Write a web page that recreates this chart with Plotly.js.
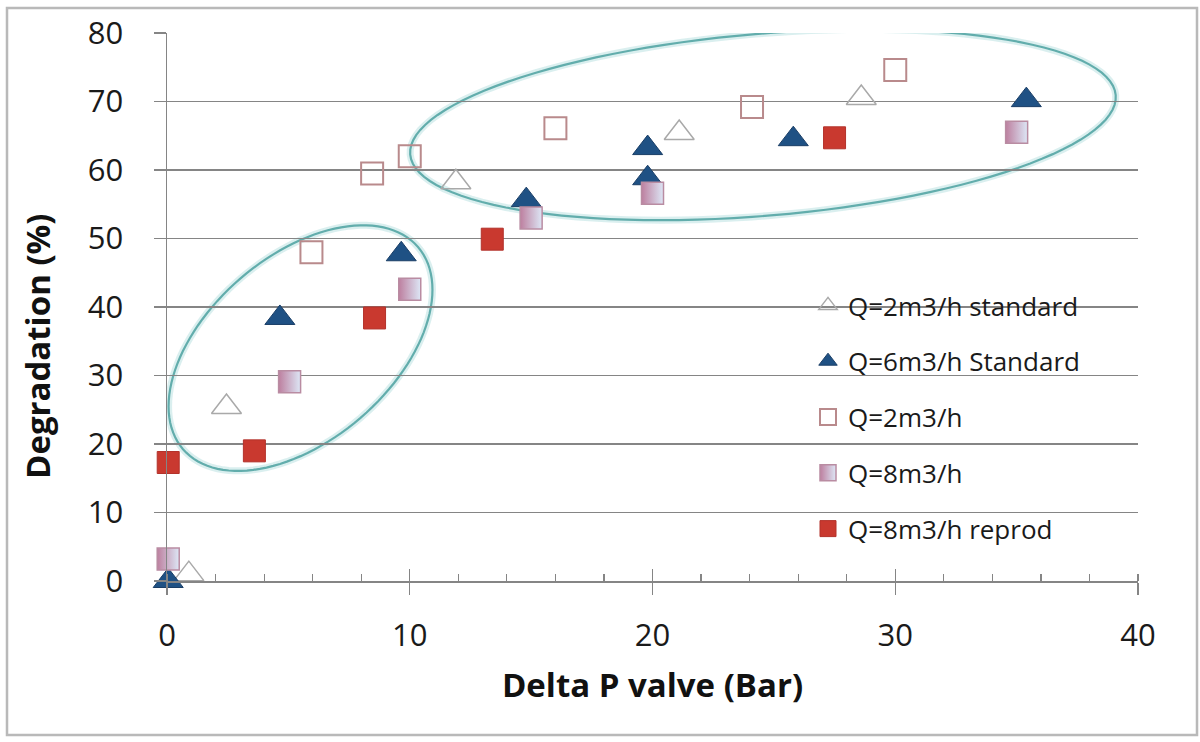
<!DOCTYPE html>
<html>
<head>
<meta charset="utf-8">
<script src="https://cdn.plot.ly/plotly-3.0.1.min.js"></script>
<style>
html,body{margin:0;padding:0;background:#fff;}
#chart{width:1200px;height:742px;}
</style>
</head>
<body>
<div id="chart"></div>
<script>
// ---- data ----
const seriesNames = ["Q=2m3/h standard", "Q=6m3/h Standard", "Q=2m3/h", "Q=8m3/h", "Q=8m3/h reprod"];

const q2stdX = [0.9, 2.45, 11.9, 21.1, 28.6];
const q2stdY = [1.0, 25.4, 58.2, 65.4, 70.5];

const q6stdX = [0.05, 4.65, 9.65, 14.8, 19.8, 19.8, 25.8, 35.4];
const q6stdY = [0.0, 38.4, 47.7, 55.6, 63.2, 58.8, 64.5, 70.2];

const q2X = [5.95, 8.45, 10.0, 16.0, 24.1, 30.0];
const q2Y = [48.0, 59.5, 62.0, 66.1, 69.2, 74.6];

const q8X = [0.05, 5.05, 10.0, 15.0, 20.0, 35.0];
const q8Y = [3.2, 29.1, 42.6, 53.0, 56.6, 65.5];

const q8repX = [0.05, 3.6, 8.55, 13.4, 27.5];
const q8repY = [17.3, 19.0, 38.4, 49.9, 64.7];

const xTickVals = [0, 10, 20, 30, 40];
const yTickVals = [0, 10, 20, 30, 40, 50, 60, 70, 80];

// ---- layout geometry ----
const W = 1200, H = 742;
const M = {l: 167, r: 62, t: 33, b: 161};
const xRange = [0, 40], yRange = [0, 80];
const plotW = W - M.l - M.r, plotH = H - M.t - M.b;
const kx = plotW / (xRange[1] - xRange[0]);
const ky = plotH / (yRange[1] - yRange[0]);

// ellipse outline (center in data units, semi-axes in screen pixels, angle in degrees)
function ellipsePath(cx, cy, aPx, bPx, angDeg) {
  const th = angDeg * Math.PI / 180;
  const n = 120;
  let d = "";
  for (let i = 0; i <= n; i++) {
    const t = 2 * Math.PI * i / n;
    const dx = aPx * Math.cos(t) * Math.cos(th) - bPx * Math.sin(t) * Math.sin(th);
    const dy = aPx * Math.cos(t) * Math.sin(th) + bPx * Math.sin(t) * Math.cos(th);
    const x = cx + dx / kx, y = cy + dy / ky;
    d += (i === 0 ? "M" : "L") + x.toFixed(4) + "," + y.toFixed(4);
  }
  return d + "Z";
}
const ell1 = ellipsePath(5.5, 34.0, 155, 92, 40.7);
const ell2 = ellipsePath(24.55, 66.6, 354, 91, 4.8);

const font = "Open Sans, sans-serif";
const grid = "#858585";

const traces = [
  {x: q2stdX, y: q2stdY, name: seriesNames[0], type: "scatter", mode: "markers", cliponaxis: false,
   legendgroup: "a",
   marker: {symbol: "triangle-up-open", size: 26, color: "#a9a9a9", line: {width: 1.5, color: "#a9a9a9"}}},
  {x: q6stdX, y: q6stdY, name: seriesNames[1], type: "scatter", mode: "markers", cliponaxis: false,
   legendgroup: "b",
   marker: {symbol: "triangle-up", size: 26, color: "#1f5184", line: {width: 1, color: "#1a3e66"}}},
  {x: q2X, y: q2Y, name: seriesNames[2], type: "scatter", mode: "markers", cliponaxis: false,
   legendgroup: "c",
   marker: {symbol: "square-open", size: 22, color: "#b98a8c", line: {width: 2, color: "#b98a8c"}}},
  {x: q8X, y: q8Y, name: seriesNames[3], type: "scatter", mode: "markers", cliponaxis: false,
   legendgroup: "d",
   marker: {symbol: "square", size: 22, color: "#bd7f9f", gradient: {type: "horizontal", color: "#dde7f6"},
            line: {width: 1.5, color: "#b98ca2"}}},
  {x: q8repX, y: q8repY, name: seriesNames[4], type: "scatter", mode: "markers", cliponaxis: false,
   legendgroup: "e",
   marker: {symbol: "square", size: 22, color: "#c9392f", line: {width: 1, color: "#b3322b"}}},
  {x: [], y: [], xaxis: "x2", yaxis: "y", type: "scatter", mode: "markers", showlegend: false, hoverinfo: "skip"}
];

const px2paperX = p => (p - M.l) / plotW;
const px2paperY = p => (H - M.b - p) / plotH;

const layout = {
  width: W, height: H,
  margin: M,
  paper_bgcolor: "#ffffff", plot_bgcolor: "#ffffff",
  font: {family: font, color: "#1a1a1a"},
  showlegend: true,
  xaxis: {
    range: xRange, tickvals: xTickVals, ticktext: xTickVals.map(String),
    showgrid: false, zeroline: false,
    showline: true, linecolor: grid, linewidth: 1.5,
    ticks: "outside", ticklen: 12, tickcolor: grid, tickwidth: 1.3,
    ticklabelstandoff: 14,
    tickfont: {family: font, size: 31, color: "#1a1a1a"},
    minor: {dtick: 2, tick0: 0, ticks: "inside", ticklen: 7, tickcolor: grid, tickwidth: 1.2, showgrid: false},
    title: {text: "<b>Delta P valve (Bar)</b>", font: {family: font, size: 33, color: "#111"}, standoff: 20},
    fixedrange: true
  },
  xaxis2: {
    overlaying: "x", matches: "x", anchor: "y", side: "bottom",
    range: xRange, dtick: 10, tick0: 0,
    showgrid: false, zeroline: false, showline: false, showticklabels: false,
    ticks: "inside", ticklen: 12, tickcolor: grid, tickwidth: 1.3
  },
  yaxis: {
    range: yRange, tickvals: yTickVals, ticktext: yTickVals.map(String),
    showgrid: true, gridcolor: grid, gridwidth: 1.5,
    zeroline: false,
    showline: true, linecolor: grid, linewidth: 1.5,
    ticks: "outside", ticklen: 12, tickcolor: grid, tickwidth: 1.5,
    ticklabelstandoff: 24,
    tickfont: {family: font, size: 31, color: "#1a1a1a"},
    fixedrange: true
  },
  legend: {
    x: px2paperX(808), y: px2paperY(282), xanchor: "left", yanchor: "top",
    bgcolor: "rgba(255,255,255,0)", borderwidth: 0,
    font: {family: font, size: 26, color: "#1a1a1a"},
    tracegroupgap: 19, itemwidth: 30
  },
  annotations: [
    {text: "<b>Degradation (%)</b>", textangle: -90, xref: "paper", yref: "paper",
     x: px2paperX(37), y: px2paperY(347), xanchor: "center", yanchor: "middle",
     showarrow: false, font: {family: font, size: 33, color: "#111"}}
  ],
  shapes: [
    {type: "rect", xref: "paper", yref: "paper", x0: px2paperX(7), x1: px2paperX(1197),
     y0: px2paperY(735), y1: px2paperY(8), line: {color: "#b9b9b9", width: 2.5}, layer: "below"},
    {type: "path", path: ell1, xref: "x", yref: "y", line: {color: "rgba(150,210,210,0.35)", width: 7}, layer: "below"},
    {type: "path", path: ell1, xref: "x", yref: "y", line: {color: "#62adac", width: 2.2}, layer: "below"},
    {type: "path", path: ell2, xref: "x", yref: "y", line: {color: "rgba(150,210,210,0.35)", width: 7}, layer: "below"},
    {type: "path", path: ell2, xref: "x", yref: "y", line: {color: "#62adac", width: 2.2}, layer: "below"}
  ]
};

Plotly.newPlot("chart", traces, layout, {displayModeBar: false, staticPlot: true});
</script>
</body>
</html>
